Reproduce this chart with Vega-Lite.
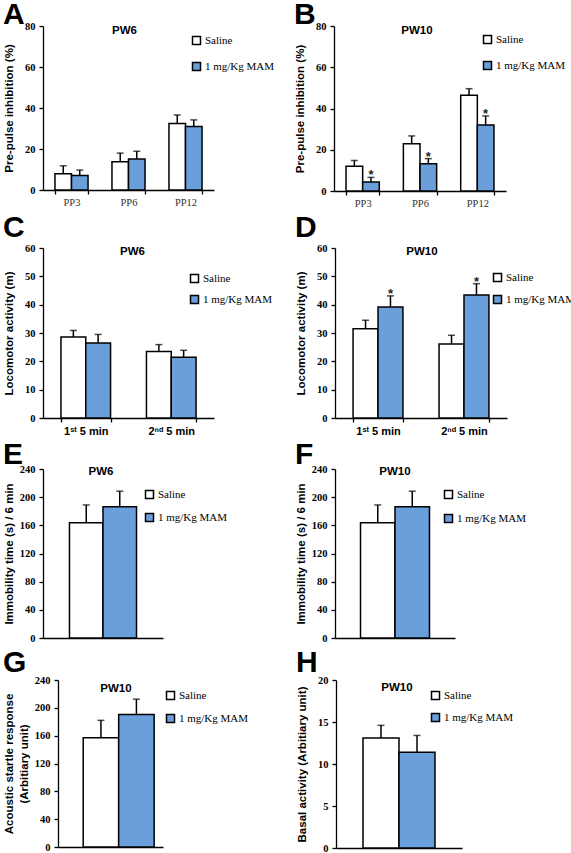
{
"$schema": "https://vega.github.io/schema/vega-lite/v6.json",
"background": "white",
"padding": {"left": 3, "top": 0, "right": 0, "bottom": 0},
"config": {
  "view": {"stroke": null},
  "axis": {"domainColor": "black", "domainWidth": 1.3, "tickColor": "black", "tickWidth": 1.3, "tickSize": 4, "grid": false, "labelOverlap": false,
    "labelFont": "Liberation Serif", "labelFontWeight": "bold", "labelFontSize": 10.5, "labelColor": "black",
    "titleFont": "Liberation Sans", "titleFontWeight": "bold", "titleFontSize": 11.5, "titleColor": "black"},
  "axisY": {"minExtent": 22, "maxExtent": 22, "titlePadding": 7, "labelPadding": 4, "titleLineHeight": 15, "labelOverlap": false, "tickCount": 10},
  "legend": {"orient": "none", "symbolType": "square", "symbolSize": 64, "symbolStrokeColor": "black", "symbolStrokeWidth": 1.5,
    "labelFont": "Liberation Serif", "labelFontSize": 11, "labelColor": "black", "labelOffset": 3, "padding": 0},
  "title": {"anchor": "start", "frame": "bounds", "font": "Liberation Sans", "fontSize": 30, "fontWeight": "bold", "color": "black", "offset": -9}
},
"columns": 1,
"align": "none",
"spacing": 4,
"resolve": {"scale": {"fill": "independent", "xOffset": "independent", "x": "independent", "y": "independent"}, "legend": {"fill": "independent"}},
"concat": [
 {"spacing": 19, "resolve": {"scale": {"fill": "independent", "xOffset": "independent", "x": "independent", "y": "independent"}, "legend": {"fill": "independent"}},
  "hconcat": [
  {"width": 171, "height": 164, "title": {"text": "A", "offset": -9},
   "data": {"values": [
     {"cat": "PP3", "group": "Saline", "mean": 7.9, "hi": 11.8, "sig": ""},
     {"cat": "PP3", "group": "1 mg/Kg MAM", "mean": 7.1, "hi": 9.7, "sig": ""},
     {"cat": "PP6", "group": "Saline", "mean": 13.8, "hi": 18.0, "sig": ""},
     {"cat": "PP6", "group": "1 mg/Kg MAM", "mean": 15.1, "hi": 18.9, "sig": ""},
     {"cat": "PP12", "group": "Saline", "mean": 32.4, "hi": 36.6, "sig": ""},
     {"cat": "PP12", "group": "1 mg/Kg MAM", "mean": 31.0, "hi": 34.2, "sig": ""}]},
   "layer": [
    {"mark": {"type": "bar", "stroke": "black", "strokeWidth": 1.5},
     "encoding": {
      "x": {"field": "cat", "type": "nominal", "sort": ["PP3", "PP6", "PP12"], "scale": {"paddingInner": 0.42, "paddingOuter": 0.21},
        "axis": {"title": null, "tickBand": "extent", "labelFont": "Liberation Serif", "labelFontWeight": "normal", "labelFontSize": 10.5, "labelColor": "#333", "labelPadding": 3, "labelAngle": 0}},
      "xOffset": {"field": "group", "type": "nominal", "sort": ["Saline", "1 mg/Kg MAM"]},
      "y": {"field": "mean", "type": "quantitative", "title": "Pre-pulse inhibition (%)", "scale": {"domain": [0, 80], "nice": false}, "axis": {"values": [0, 20, 40, 60, 80], "labelOverlap": false, "tickCount": 10}},
      "fill": {"field": "group", "type": "nominal", "scale": {"domain": ["Saline", "1 mg/Kg MAM"], "range": ["white", "#6a9fdc"]},
        "legend": {"title": null, "legendX": 148, "legendY": 9, "rowPadding": 11, "labelFont": "Liberation Serif"}}}},
    {"mark": {"type": "rule", "strokeWidth": 1.5, "color": "black"},
     "encoding": {"x": {"field": "cat", "type": "nominal", "sort": ["PP3", "PP6", "PP12"]}, "xOffset": {"field": "group", "type": "nominal", "sort": ["Saline", "1 mg/Kg MAM"]},
      "y": {"field": "mean", "type": "quantitative", "title": "Pre-pulse inhibition (%)"}, "y2": {"field": "hi"}}},
    {"mark": {"type": "tick", "orient": "horizontal", "size": 7, "thickness": 1.5, "color": "black"},
     "encoding": {"x": {"field": "cat", "type": "nominal", "sort": ["PP3", "PP6", "PP12"]}, "xOffset": {"field": "group", "type": "nominal", "sort": ["Saline", "1 mg/Kg MAM"]},
      "y": {"field": "hi", "type": "quantitative", "title": "Pre-pulse inhibition (%)"}}},
    {"data": {"values": [{"t": "PW6"}]},
     "mark": {"type": "text", "font": "Liberation Sans", "fontWeight": "bold", "fontSize": 11.5, "baseline": "middle", "dy": 5, "dx": -4, "color": "black"},
     "encoding": {"y": {"datum": 80, "type": "quantitative"}, "text": {"field": "t"}}}
   ]},
  {"width": 172, "height": 165, "title": {"text": "B", "offset": -9},
   "data": {"values": [
     {"cat": "PP3", "group": "Saline", "mean": 12.0, "hi": 14.8, "sig": ""},
     {"cat": "PP3", "group": "1 mg/Kg MAM", "mean": 4.4, "hi": 6.6, "sig": "*"},
     {"cat": "PP6", "group": "Saline", "mean": 22.9, "hi": 26.7, "sig": ""},
     {"cat": "PP6", "group": "1 mg/Kg MAM", "mean": 13.2, "hi": 15.7, "sig": "*"},
     {"cat": "PP12", "group": "Saline", "mean": 46.4, "hi": 49.6, "sig": ""},
     {"cat": "PP12", "group": "1 mg/Kg MAM", "mean": 32.0, "hi": 36.4, "sig": "*"}]},
   "layer": [
    {"mark": {"type": "bar", "stroke": "black", "strokeWidth": 1.5},
     "encoding": {
      "x": {"field": "cat", "type": "nominal", "sort": ["PP3", "PP6", "PP12"], "scale": {"paddingInner": 0.42, "paddingOuter": 0.21},
        "axis": {"title": null, "tickBand": "extent", "labelFont": "Liberation Serif", "labelFontWeight": "normal", "labelFontSize": 10.5, "labelColor": "#333", "labelPadding": 3, "labelAngle": 0}},
      "xOffset": {"field": "group", "type": "nominal", "sort": ["Saline", "1 mg/Kg MAM"]},
      "y": {"field": "mean", "type": "quantitative", "title": "Pre-pulse inhibition (%)", "scale": {"domain": [0, 80], "nice": false}, "axis": {"values": [0, 20, 40, 60, 80], "labelOverlap": false, "tickCount": 10}},
      "fill": {"field": "group", "type": "nominal", "scale": {"domain": ["Saline", "1 mg/Kg MAM"], "range": ["white", "#6a9fdc"]},
        "legend": {"title": null, "legendX": 148, "legendY": 8, "rowPadding": 11, "labelFont": "Liberation Serif"}}}},
    {"mark": {"type": "rule", "strokeWidth": 1.5, "color": "black"},
     "encoding": {"x": {"field": "cat", "type": "nominal", "sort": ["PP3", "PP6", "PP12"]}, "xOffset": {"field": "group", "type": "nominal", "sort": ["Saline", "1 mg/Kg MAM"]},
      "y": {"field": "mean", "type": "quantitative", "title": "Pre-pulse inhibition (%)"}, "y2": {"field": "hi"}}},
    {"mark": {"type": "tick", "orient": "horizontal", "size": 7, "thickness": 1.5, "color": "black"},
     "encoding": {"x": {"field": "cat", "type": "nominal", "sort": ["PP3", "PP6", "PP12"]}, "xOffset": {"field": "group", "type": "nominal", "sort": ["Saline", "1 mg/Kg MAM"]},
      "y": {"field": "hi", "type": "quantitative", "title": "Pre-pulse inhibition (%)"}}},
    {"mark": {"type": "text", "font": "Liberation Sans", "fontWeight": "bold", "fontSize": 13, "baseline": "alphabetic", "dy": 2, "color": "#222"},
     "encoding": {"x": {"field": "cat", "type": "nominal", "sort": ["PP3", "PP6", "PP12"]}, "xOffset": {"field": "group", "type": "nominal", "sort": ["Saline", "1 mg/Kg MAM"]},
      "y": {"field": "hi", "type": "quantitative", "title": "Pre-pulse inhibition (%)"}, "text": {"field": "sig"}}},
    {"data": {"values": [{"t": "PW10"}]},
     "mark": {"type": "text", "font": "Liberation Sans", "fontWeight": "bold", "fontSize": 11.5, "baseline": "middle", "dy": 5, "dx": -3, "color": "black"},
     "encoding": {"y": {"datum": 80, "type": "quantitative"}, "text": {"field": "t"}}}
   ]}
 ]},
 {"spacing": 22, "resolve": {"scale": {"fill": "independent", "xOffset": "independent", "x": "independent", "y": "independent"}, "legend": {"fill": "independent"}},
  "hconcat": [
  {"width": 171, "height": 170, "title": {"text": "C", "offset": 0},
   "data": {"values": [
     {"cat": "1ˢᵗ 5 min", "group": "Saline", "mean": 28.6, "hi": 30.9, "sig": ""},
     {"cat": "1ˢᵗ 5 min", "group": "1 mg/Kg MAM", "mean": 26.5, "hi": 29.5, "sig": ""},
     {"cat": "2ⁿᵈ 5 min", "group": "Saline", "mean": 23.5, "hi": 25.9, "sig": ""},
     {"cat": "2ⁿᵈ 5 min", "group": "1 mg/Kg MAM", "mean": 21.4, "hi": 23.9, "sig": ""}]},
   "layer": [
    {"mark": {"type": "bar", "stroke": "black", "strokeWidth": 1.5},
     "encoding": {
      "x": {"field": "cat", "type": "nominal", "sort": null, "scale": {"paddingInner": 0.42, "paddingOuter": 0.21},
        "axis": {"title": null, "tickBand": "extent", "labelFont": "Liberation Sans", "labelFontWeight": "bold", "labelFontSize": 11, "labelColor": "black", "labelPadding": 3, "labelAngle": 0}},
      "xOffset": {"field": "group", "type": "nominal", "sort": ["Saline", "1 mg/Kg MAM"]},
      "y": {"field": "mean", "type": "quantitative", "title": "Locomotor activity (m)", "scale": {"domain": [0, 60], "nice": false}, "axis": {"values": [0, 10, 20, 30, 40, 50, 60], "labelOverlap": false, "tickCount": 10}},
      "fill": {"field": "group", "type": "nominal", "scale": {"domain": ["Saline", "1 mg/Kg MAM"], "range": ["white", "#6a9fdc"]},
        "legend": {"title": null, "legendX": 146, "legendY": 25, "rowPadding": 6, "labelFont": "Liberation Serif"}}}},
    {"mark": {"type": "rule", "strokeWidth": 1.5, "color": "black"},
     "encoding": {"x": {"field": "cat", "type": "nominal", "sort": null}, "xOffset": {"field": "group", "type": "nominal", "sort": ["Saline", "1 mg/Kg MAM"]},
      "y": {"field": "mean", "type": "quantitative", "title": "Locomotor activity (m)"}, "y2": {"field": "hi"}}},
    {"mark": {"type": "tick", "orient": "horizontal", "size": 7, "thickness": 1.5, "color": "black"},
     "encoding": {"x": {"field": "cat", "type": "nominal", "sort": null}, "xOffset": {"field": "group", "type": "nominal", "sort": ["Saline", "1 mg/Kg MAM"]},
      "y": {"field": "hi", "type": "quantitative", "title": "Locomotor activity (m)"}}},
    {"data": {"values": [{"t": "PW6"}]},
     "mark": {"type": "text", "font": "Liberation Sans", "fontWeight": "bold", "fontSize": 11.5, "baseline": "middle", "dy": 4, "dx": 4, "color": "black"},
     "encoding": {"y": {"datum": 60, "type": "quantitative"}, "text": {"field": "t"}}}
   ]},
  {"width": 172, "height": 170, "title": {"text": "D", "offset": 0},
   "data": {"values": [
     {"cat": "1ˢᵗ 5 min", "group": "Saline", "mean": 31.5, "hi": 34.5, "sig": ""},
     {"cat": "1ˢᵗ 5 min", "group": "1 mg/Kg MAM", "mean": 39.2, "hi": 43.1, "sig": "*"},
     {"cat": "2ⁿᵈ 5 min", "group": "Saline", "mean": 26.1, "hi": 29.2, "sig": ""},
     {"cat": "2ⁿᵈ 5 min", "group": "1 mg/Kg MAM", "mean": 43.4, "hi": 47.4, "sig": "*"}]},
   "layer": [
    {"mark": {"type": "bar", "stroke": "black", "strokeWidth": 1.5},
     "encoding": {
      "x": {"field": "cat", "type": "nominal", "sort": null, "scale": {"paddingInner": 0.42, "paddingOuter": 0.21},
        "axis": {"title": null, "tickBand": "extent", "labelFont": "Liberation Sans", "labelFontWeight": "bold", "labelFontSize": 11, "labelColor": "black", "labelPadding": 3, "labelAngle": 0}},
      "xOffset": {"field": "group", "type": "nominal", "sort": ["Saline", "1 mg/Kg MAM"]},
      "y": {"field": "mean", "type": "quantitative", "title": "Locomotor activity (m)", "scale": {"domain": [0, 60], "nice": false}, "axis": {"values": [0, 10, 20, 30, 40, 50, 60], "labelOverlap": false, "tickCount": 10}},
      "fill": {"field": "group", "type": "nominal", "scale": {"domain": ["Saline", "1 mg/Kg MAM"], "range": ["white", "#6a9fdc"]},
        "legend": {"title": null, "legendX": 157, "legendY": 24, "rowPadding": 7, "labelFont": "Liberation Serif"}}}},
    {"mark": {"type": "rule", "strokeWidth": 1.5, "color": "black"},
     "encoding": {"x": {"field": "cat", "type": "nominal", "sort": null}, "xOffset": {"field": "group", "type": "nominal", "sort": ["Saline", "1 mg/Kg MAM"]},
      "y": {"field": "mean", "type": "quantitative", "title": "Locomotor activity (m)"}, "y2": {"field": "hi"}}},
    {"mark": {"type": "tick", "orient": "horizontal", "size": 7, "thickness": 1.5, "color": "black"},
     "encoding": {"x": {"field": "cat", "type": "nominal", "sort": null}, "xOffset": {"field": "group", "type": "nominal", "sort": ["Saline", "1 mg/Kg MAM"]},
      "y": {"field": "hi", "type": "quantitative", "title": "Locomotor activity (m)"}}},
    {"mark": {"type": "text", "font": "Liberation Sans", "fontWeight": "bold", "fontSize": 13, "baseline": "alphabetic", "dy": 2, "color": "#222"},
     "encoding": {"x": {"field": "cat", "type": "nominal", "sort": null}, "xOffset": {"field": "group", "type": "nominal", "sort": ["Saline", "1 mg/Kg MAM"]},
      "y": {"field": "hi", "type": "quantitative", "title": "Locomotor activity (m)"}, "text": {"field": "sig"}}},
    {"data": {"values": [{"t": "PW10"}]},
     "mark": {"type": "text", "font": "Liberation Sans", "fontWeight": "bold", "fontSize": 11.5, "baseline": "middle", "dy": 4, "dx": 1, "color": "black"},
     "encoding": {"y": {"datum": 60, "type": "quantitative"}, "text": {"field": "t"}}}
   ]}
 ]},
 {"spacing": 67, "resolve": {"scale": {"fill": "independent", "xOffset": "independent", "x": "independent", "y": "independent"}, "legend": {"fill": "independent"}},
  "hconcat": [
  {"width": 120, "height": 169, "title": {"text": "E", "offset": -6},
   "data": {"values": [
     {"group": "Saline", "mean": 163.5, "hi": 189.0},
     {"group": "1 mg/Kg MAM", "mean": 186.5, "hi": 208.5}]},
   "layer": [
    {"mark": {"type": "bar", "stroke": "black", "strokeWidth": 1.5},
     "encoding": {
      "x": {"field": "group", "type": "nominal", "sort": ["Saline", "1 mg/Kg MAM"], "scale": {"paddingInner": 0, "paddingOuter": 0.79},
        "axis": {"title": null, "labels": false, "ticks": false}},
      "y": {"field": "mean", "type": "quantitative", "title": "Immobility time (s) / 6 min", "scale": {"domain": [0, 240], "nice": false}, "axis": {"values": [0, 40, 80, 120, 160, 200, 240], "labelOverlap": false, "tickCount": 10}},
      "fill": {"field": "group", "type": "nominal", "scale": {"domain": ["Saline", "1 mg/Kg MAM"], "range": ["white", "#6a9fdc"]},
        "legend": {"title": null, "legendX": 101, "legendY": 20, "rowPadding": 8, "labelFont": "Liberation Serif"}}}},
    {"mark": {"type": "rule", "strokeWidth": 1.5, "color": "black"},
     "encoding": {"x": {"field": "group", "type": "nominal", "sort": ["Saline", "1 mg/Kg MAM"]},
      "y": {"field": "mean", "type": "quantitative", "title": "Immobility time (s) / 6 min"}, "y2": {"field": "hi"}}},
    {"mark": {"type": "tick", "orient": "horizontal", "size": 7, "thickness": 1.5, "color": "black"},
     "encoding": {"x": {"field": "group", "type": "nominal", "sort": ["Saline", "1 mg/Kg MAM"]},
      "y": {"field": "hi", "type": "quantitative", "title": "Immobility time (s) / 6 min"}}},
    {"data": {"values": [{"t": "PW6"}]},
     "mark": {"type": "text", "font": "Liberation Sans", "fontWeight": "bold", "fontSize": 11.5, "baseline": "middle", "dy": 3, "dx": -2, "color": "black"},
     "encoding": {"y": {"datum": 240, "type": "quantitative"}, "text": {"field": "t"}}}
   ]},
  {"width": 120, "height": 169, "title": {"text": "F", "offset": -6},
   "data": {"values": [
     {"group": "Saline", "mean": 163.5, "hi": 189.0},
     {"group": "1 mg/Kg MAM", "mean": 186.5, "hi": 208.5}]},
   "layer": [
    {"mark": {"type": "bar", "stroke": "black", "strokeWidth": 1.5},
     "encoding": {
      "x": {"field": "group", "type": "nominal", "sort": ["Saline", "1 mg/Kg MAM"], "scale": {"paddingInner": 0, "paddingOuter": 0.74},
        "axis": {"title": null, "labels": false, "ticks": false}},
      "y": {"field": "mean", "type": "quantitative", "title": "Immobility time (s) / 6 min", "scale": {"domain": [0, 240], "nice": false}, "axis": {"values": [0, 40, 80, 120, 160, 200, 240], "labelOverlap": false, "tickCount": 10}},
      "fill": {"field": "group", "type": "nominal", "scale": {"domain": ["Saline", "1 mg/Kg MAM"], "range": ["white", "#6a9fdc"]},
        "legend": {"title": null, "legendX": 108, "legendY": 20, "rowPadding": 9, "labelFont": "Liberation Serif"}}}},
    {"mark": {"type": "rule", "strokeWidth": 1.5, "color": "black"},
     "encoding": {"x": {"field": "group", "type": "nominal", "sort": ["Saline", "1 mg/Kg MAM"]},
      "y": {"field": "mean", "type": "quantitative", "title": "Immobility time (s) / 6 min"}, "y2": {"field": "hi"}}},
    {"mark": {"type": "tick", "orient": "horizontal", "size": 7, "thickness": 1.5, "color": "black"},
     "encoding": {"x": {"field": "group", "type": "nominal", "sort": ["Saline", "1 mg/Kg MAM"]},
      "y": {"field": "hi", "type": "quantitative", "title": "Immobility time (s) / 6 min"}}},
    {"data": {"values": [{"t": "PW10"}]},
     "mark": {"type": "text", "font": "Liberation Sans", "fontWeight": "bold", "fontSize": 11.5, "baseline": "middle", "dy": 3, "color": "black"},
     "encoding": {"y": {"datum": 240, "type": "quantitative"}, "text": {"field": "t"}}}
   ]}
 ]},
 {"spacing": 47, "resolve": {"scale": {"fill": "independent", "xOffset": "independent", "x": "independent", "y": "independent"}, "legend": {"fill": "independent"}},
  "hconcat": [
  {"width": 120, "height": 167, "title": {"text": "G", "offset": -3},
   "data": {"values": [
     {"group": "Saline", "mean": 157.0, "hi": 182.0},
     {"group": "1 mg/Kg MAM", "mean": 190.5, "hi": 212.5}]},
   "layer": [
    {"mark": {"type": "bar", "stroke": "black", "strokeWidth": 1.5},
     "encoding": {
      "x": {"field": "group", "type": "nominal", "sort": ["Saline", "1 mg/Kg MAM"], "scale": {"range": [15, 120], "paddingInner": 0, "paddingOuter": 0.48, "align": 0.74},
        "axis": {"title": null, "labels": false, "ticks": false}},
      "y": {"field": "mean", "type": "quantitative", "title": ["Acoustic startle response", "(Arbitiary unit)"], "scale": {"domain": [0, 240], "nice": false}, "axis": {"values": [0, 40, 80, 120, 160, 200, 240], "labelOverlap": false, "tickCount": 10, "offset": -15}},
      "fill": {"field": "group", "type": "nominal", "scale": {"domain": ["Saline", "1 mg/Kg MAM"], "range": ["white", "#6a9fdc"]},
        "legend": {"title": null, "legendX": 122, "legendY": 10, "rowPadding": 8, "labelFont": "Liberation Serif"}}}},
    {"mark": {"type": "rule", "strokeWidth": 1.5, "color": "black"},
     "encoding": {"x": {"field": "group", "type": "nominal", "sort": ["Saline", "1 mg/Kg MAM"]},
      "y": {"field": "mean", "type": "quantitative", "title": ["Acoustic startle response", "(Arbitiary unit)"]}, "y2": {"field": "hi"}}},
    {"mark": {"type": "tick", "orient": "horizontal", "size": 7, "thickness": 1.5, "color": "black"},
     "encoding": {"x": {"field": "group", "type": "nominal", "sort": ["Saline", "1 mg/Kg MAM"]},
      "y": {"field": "hi", "type": "quantitative", "title": ["Acoustic startle response", "(Arbitiary unit)"]}}},
    {"data": {"values": [{"t": "PW10"}]},
     "mark": {"type": "text", "font": "Liberation Sans", "fontWeight": "bold", "fontSize": 11.5, "baseline": "middle", "dy": 9, "dx": 13, "color": "black"},
     "encoding": {"y": {"datum": 240, "type": "quantitative"}, "text": {"field": "t"}}}
   ]},
  {"width": 126, "height": 168, "title": {"text": "H", "offset": -3},
   "data": {"values": [
     {"group": "Saline", "mean": 13.1, "hi": 14.6},
     {"group": "1 mg/Kg MAM", "mean": 11.4, "hi": 13.4}]},
   "layer": [
    {"mark": {"type": "bar", "stroke": "black", "strokeWidth": 1.5},
     "encoding": {
      "x": {"field": "group", "type": "nominal", "sort": ["Saline", "1 mg/Kg MAM"], "scale": {"paddingInner": 0, "paddingOuter": 0.75},
        "axis": {"title": null, "labels": false, "ticks": false}},
      "y": {"field": "mean", "type": "quantitative", "title": "Basal activity  (Arbitiary unit)", "scale": {"domain": [0, 20], "nice": false}, "axis": {"values": [0, 5, 10, 15, 20], "labelOverlap": false, "tickCount": 10}},
      "fill": {"field": "group", "type": "nominal", "scale": {"domain": ["Saline", "1 mg/Kg MAM"], "range": ["white", "#6a9fdc"]},
        "legend": {"title": null, "legendX": 94, "legendY": 10, "rowPadding": 7, "labelFont": "Liberation Serif"}}}},
    {"mark": {"type": "rule", "strokeWidth": 1.5, "color": "black"},
     "encoding": {"x": {"field": "group", "type": "nominal", "sort": ["Saline", "1 mg/Kg MAM"]},
      "y": {"field": "mean", "type": "quantitative", "title": "Basal activity  (Arbitiary unit)"}, "y2": {"field": "hi"}}},
    {"mark": {"type": "tick", "orient": "horizontal", "size": 7, "thickness": 1.5, "color": "black"},
     "encoding": {"x": {"field": "group", "type": "nominal", "sort": ["Saline", "1 mg/Kg MAM"]},
      "y": {"field": "hi", "type": "quantitative", "title": "Basal activity  (Arbitiary unit)"}}},
    {"data": {"values": [{"t": "PW10"}]},
     "mark": {"type": "text", "font": "Liberation Sans", "fontWeight": "bold", "fontSize": 11.5, "baseline": "middle", "dy": 8, "dx": -2, "color": "black"},
     "encoding": {"y": {"datum": 20, "type": "quantitative"}, "text": {"field": "t"}}}
   ]}
 ]}
]
}
